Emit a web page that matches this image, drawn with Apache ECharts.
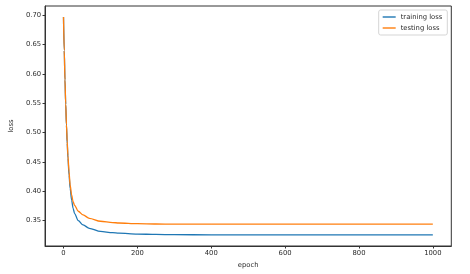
<!DOCTYPE html>
<html>
<head>
<meta charset="utf-8">
<script src="https://cdn.jsdelivr.net/npm/echarts@6/dist/echarts.min.js"></script>
<style>html,body{margin:0;padding:0;background:#fff;}#c{width:470px;height:274px;}</style>
</head>
<body>
<div id="c"></div>
<script>
var epochs    = [0, 2, 4, 6, 8, 10, 12, 15, 18, 22, 26, 30, 40, 53, 70, 100, 133, 150, 200, 250, 300, 400, 600, 1000];
var trainLoss = [0.697, 0.640, 0.590, 0.548, 0.512, 0.482, 0.457, 0.428, 0.405, 0.385, 0.371, 0.362, 0.350, 0.3427, 0.3370, 0.3317, 0.3295, 0.3287, 0.3272, 0.3265, 0.3261, 0.3259, 0.3258, 0.3257];
var testLoss  = [0.697, 0.640, 0.590, 0.549, 0.514, 0.485, 0.461, 0.433, 0.411, 0.394, 0.3824, 0.376, 0.366, 0.3597, 0.3540, 0.3490, 0.3468, 0.3460, 0.3448, 0.3443, 0.3441, 0.3440, 0.3440, 0.3440];
var xTicks = [0, 200, 400, 600, 800, 1000];
var yTicks = [0.35, 0.40, 0.45, 0.50, 0.55, 0.60, 0.65, 0.70];

function pairs(ys){ return epochs.map(function(e,i){ return [e, ys[i]]; }); }
var font = 'DejaVu Sans';
var txt = '#2a2a2a';
var chart = echarts.init(document.getElementById('c'), null, {renderer:'canvas'});
chart.setOption({
  animation: false,
  backgroundColor: '#fff',
  grid: {left: 41.5, right: 18.7, top: 6, bottom: 28, show: true, borderColor: '#333', borderWidth: 1, backgroundColor: 'transparent'},
  legend: {
    orient: 'vertical', right: 22.7, top: 10,
    data: [{name: 'training loss', icon: 'rect'}, {name: 'testing loss', icon: 'rect'}],
    itemWidth: 13, itemHeight: 1.4, itemGap: 3,
    padding: [3, 5, 3, 4],
    borderColor: '#d5d5d5', borderWidth: 1, borderRadius: 2, backgroundColor: '#fff',
    textStyle: {fontFamily: font, fontSize: 6.8, color: txt, lineHeight: 8}
  },
  xAxis: {
    type: 'value', min: -50, max: 1050,
    name: 'epoch', nameLocation: 'middle', nameGap: 16,
    nameTextStyle: {fontFamily: font, fontSize: 6.8, color: txt},
    axisLine: {show: true, onZero: false, lineStyle: {color: '#333', width: 1}},
    axisTick: {show: true, inside: false, length: 2.5, lineStyle: {color: '#333'}, customValues: xTicks},
    axisLabel: {fontFamily: font, fontSize: 6.8, color: txt, margin: 4, customValues: xTicks,
      formatter: function(v){ return String(v); }},
    splitLine: {show: false}
  },
  yAxis: {
    type: 'value', min: 0.3068, max: 0.7159,
    name: 'loss', nameLocation: 'middle', nameGap: 27, nameRotate: 90,
    nameTextStyle: {fontFamily: font, fontSize: 6.8, color: txt},
    axisLine: {show: true, onZero: false, lineStyle: {color: '#333', width: 1}},
    axisTick: {show: true, inside: false, length: 2.5, lineStyle: {color: '#333'}, customValues: yTicks},
    axisLabel: {fontFamily: font, fontSize: 6.8, color: txt, margin: 4, customValues: yTicks,
      formatter: function(v){ return v.toFixed(2); }},
    splitLine: {show: false}
  },
  series: [
    {name: 'training loss', type: 'line', data: pairs(trainLoss), symbol: 'none', smooth: 0.3, smoothMonotone: 'x',
     lineStyle: {color: '#1f77b4', width: 1.3}, itemStyle: {color: '#1f77b4'}},
    {name: 'testing loss', type: 'line', data: pairs(testLoss), symbol: 'none', smooth: 0.3, smoothMonotone: 'x',
     lineStyle: {color: '#ff7f0e', width: 1.3}, itemStyle: {color: '#ff7f0e'}}
  ]
});
</script>
</body>
</html>
